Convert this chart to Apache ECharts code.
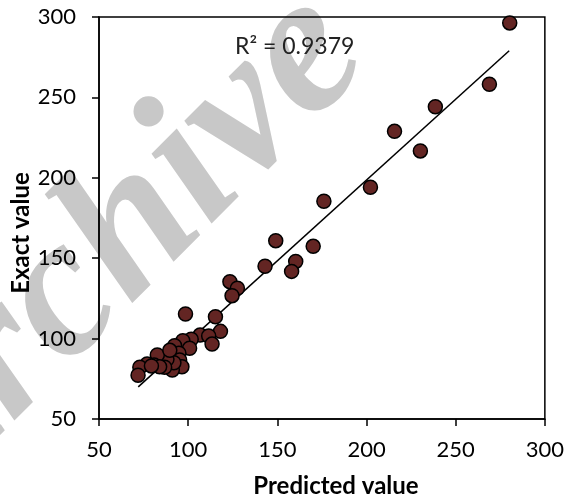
<!DOCTYPE html>
<html>
<head>
<meta charset="utf-8">
<script src="https://cdn.jsdelivr.net/npm/echarts@6/dist/echarts.min.js"></script>
<style>
  html, body { margin: 0; padding: 0; background: #fff; }
  #chart { width: 567px; height: 502px; }
</style>
</head>
<body>
<div id="chart"></div>
<script>
// predicted (x) vs exact (y)
const predicted = [
  280.3, 268.9, 238.6, 215.7, 230.2, 202.2, 176.1, 170.1, 149.1, 143.1,
  160.3, 158.0, 123.4, 127.6, 124.6, 98.5, 115.3, 118.1, 106.7, 111.5,
  113.4, 101.7, 97.0, 100.8, 92.4, 94.8, 95.2, 96.5, 91.1, 92.0,
  88.1, 82.7, 86.8, 80.9, 84.0, 77.0, 72.9, 71.9, 79.4, 89.7
];
const exact = [
  296.3, 258.2, 244.2, 228.9, 216.7, 194.1, 185.4, 157.4, 160.9, 145.0,
  148.0, 141.8, 135.4, 131.3, 126.7, 115.3, 113.6, 104.5, 102.2, 101.6,
  96.6, 99.6, 98.7, 94.0, 95.6, 90.9, 86.7, 82.5, 80.5, 85.0,
  87.1, 89.8, 82.2, 83.6, 82.5, 84.2, 82.2, 77.2, 83.0, 92.7
];
// trend line ends
const trendX = [72, 280];
const trendY = [70, 279];
const r2Text = 'R² = 0.9379';
const xTicks = [50, 100, 150, 200, 250, 300];
const yTicks = [50, 100, 150, 200, 250, 300];

const chart = echarts.init(document.getElementById('chart'));
const font = 'Lato, "Open Sans", sans-serif';

const option = {
  animation: false,
  grid: {
    left: 99, right: 20, top: 17, bottom: 83,
    show: true, borderColor: '#000', borderWidth: 1.5
  },
  xAxis: {
    type: 'value',
    min: xTicks[0], max: xTicks[xTicks.length - 1], interval: 50,
    axisLine: { show: true, onZero: false, lineStyle: { color: '#000', width: 1.5 } },
    axisTick: { show: true, length: 7, lineStyle: { color: '#000', width: 1.5 } },
    splitLine: { show: false },
    axisLabel: { color: '#000', fontSize: 22, fontFamily: font, margin: 20 }
  },
  yAxis: {
    type: 'value',
    min: yTicks[0], max: yTicks[yTicks.length - 1], interval: 50,
    axisLine: { show: true, onZero: false, lineStyle: { color: '#000', width: 1.5 } },
    axisTick: { show: true, length: 7, lineStyle: { color: '#000', width: 1.5 } },
    splitLine: { show: false },
    axisLabel: { color: '#000', fontSize: 22, fontFamily: font, margin: 23 }
  },
  graphic: [
    {
      type: 'text', z: -10, left: -190, top: -45,
      rotation: Math.PI / 4,
      style: {
        text: 'Archive', fill: '#c8c8c8',
        font: 'italic bold 200px "Liberation Serif", serif'
      }
    },
    {
      type: 'text', x: 336, y: 486,
      style: {
        text: 'Predicted value', fill: '#000',
        font: 'bold 24px ' + font, align: 'center', verticalAlign: 'middle'
      }
    },
    {
      type: 'text', x: 21, y: 233, rotation: Math.PI / 2,
      style: {
        text: 'Exact value', fill: '#000',
        font: 'bold 24px ' + font, align: 'center', verticalAlign: 'middle'
      }
    },
    {
      type: 'text', x: 235, y: 47,
      style: {
        text: r2Text, fill: '#222',
        font: '23px ' + font, align: 'left', verticalAlign: 'middle'
      }
    }
  ],
  series: [
    {
      type: 'line',
      data: trendX.map((x, i) => [x, trendY[i]]),
      symbol: 'none',
      lineStyle: { color: '#000', width: 1.5 },
      z: 1
    },
    {
      type: 'scatter',
      data: predicted.map((x, i) => [x, exact[i]]),
      symbol: 'circle',
      symbolSize: 14,
      itemStyle: { color: '#632523', borderColor: '#000', borderWidth: 1.5, opacity: 1 },
      z: 2
    }
  ]
};

chart.setOption(option);
</script>
</body>
</html>
